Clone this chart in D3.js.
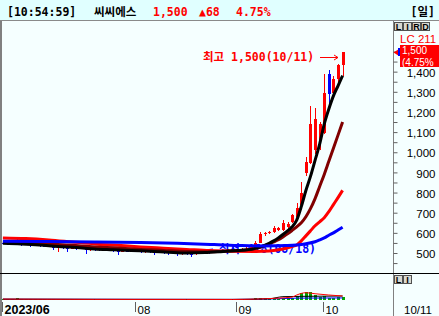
<!DOCTYPE html>
<html>
<head>
<meta charset="utf-8">
<script src="https://cdn.jsdelivr.net/npm/d3@7"></script>
<style>
  body { margin: 0; background: #fff; }
  svg { display: block; }
</style>
</head>
<body>
<svg id="chart" width="439" height="316"></svg>
<script>
// trading days shown on the chart
const dates = ["06/21","06/22","06/23","06/26","06/27","06/28","06/29","06/30",
  "07/03","07/04","07/05","07/06","07/07","07/10","07/11","07/12","07/13","07/14","07/17","07/18","07/19","07/20","07/21","07/24","07/25","07/26","07/27","07/28","07/31",
  "08/01","08/02","08/03","08/04","08/07","08/08","08/09","08/10","08/11","08/14","08/16","08/17","08/18","08/21","08/22","08/23","08/24","08/25","08/28","08/29","08/30","08/31",
  "09/01","09/04","09/05","09/06","09/07","09/08","09/11","09/12","09/13","09/14","09/15","09/18","09/19","09/20","09/21","09/22","09/25","09/26","09/27",
  "10/04","10/05","10/06","10/10","10/11"];

const openP = [552,548,544,550,545,540,546,536,
  542,536,535,532,524,528,526,520,525,520,524,515,520,518,514,520,514,512,508,512,510,
  514,510,508,512,506,505,508,503,500,505,498,500,496,495,502,505,508,506,510,512,510,515,
  514,518,520,522,525,552,592,600,604,615,615,630,655,680,737,895,945,1010,1060,
  1095,1390,1295,1365,1435];
const highP = [560,552,556,568,548,550,548,546,
  545,540,538,535,530,532,530,528,528,526,526,522,524,522,522,522,518,515,515,514,518,
  516,514,514,514,510,510,510,506,508,508,502,504,500,505,508,510,510,512,515,514,518,518,
  522,525,528,532,560,604,606,608,632,630,665,652,695,750,850,975,1230,1220,1150,
  1390,1410,1380,1440,1500];
const lowP = [544,540,540,538,535,538,530,534,
  532,530,528,515,505,520,505,518,515,518,495,512,510,510,512,508,505,492,505,505,508,
  505,502,500,498,490,500,496,488,496,485,490,488,478,490,500,502,495,504,506,505,508,508,
  510,512,515,518,522,550,585,592,600,610,610,620,650,675,730,880,940,990,1010,
  1090,1240,1280,1350,1380];
const closeP = [548,545,550,542,540,545,538,542,
  536,535,532,525,528,526,522,525,520,524,515,520,518,516,520,514,512,508,512,510,514,
  510,508,512,506,505,508,503,500,505,498,500,496,495,502,505,508,506,510,512,510,515,514,
  518,520,522,528,548,595,598,604,625,622,650,645,688,722,800,950,1140,1165,1140,
  1295,1290,1365,1432,1500];
const volume = [30,20,25,40,15,18,20,15,
  18,12,15,20,25,15,20,12,15,10,25,12,15,10,12,15,14,20,12,10,12,
  12,10,12,14,15,10,12,18,10,16,12,14,25,14,10,12,15,10,12,10,14,12,
  15,14,16,22,45,60,40,30,45,35,55,40,60,100,170,200,195,120,70,
  85,60,50,65,75];

// moving averages: [day index, price]
const ma5 = [[0,548],[4,545],[8,540],[12,532],[16,527],[20,520],[24,516],[28,512],[32,509],[36,504],[40,500],[44,502],[48,508],[52,514],
  [54,518],[55,524],[56,530],[57,538],[58,548],[59,560],[60,575],[61,592],[62,610],[63,630],[64,663],[65,730],[66,810],[67,880],[68,960],[69,1040],[70,1140],[71,1215],[72,1280],[73,1330],[74,1380]];
const ma20 = [[0,552],[5,550],[10,545],[15,538],[20,530],[25,525],[30,518],[35,513],[40,508],[45,506],[50,510],
  [54,517],[55,522],[56,528],[57,536],[58,545],[59,555],[60,566],[61,580],[62,595],[63,612],[64,630],[65,650],[66,680],[67,720],[68,770],[69,830],[70,890],[71,955],[72,1020],[73,1085],[74,1150]];
const ma60 = [[0,575],[5,572],[10,565],[15,555],[20,545],[25,538],[30,530],[35,524],[40,518],[45,512],[50,509],[55,508],[58,510],
  [61,520],[63,532],[64,540],[65,560],[66,585],[67,610],[68,635],[69,655],[70,675],[71,705],[72,740],[73,775],[74,811]];
const ma120 = [[0,558],[10,557],[20,555],[30,552],[38,548],[46,542],[52,537],[57,535],[62,537],[64,540],[66,546],[68,556],[69,565],[70,575],[71,588],[72,600],[73,614],[74,628]];

const volMa5 = [[0,22],[20,15],[40,14],[50,13],[55,22],[60,45],[63,70],[64,120],[66,175],[68,150],[71,120],[74,96]];
const volMa20 = [[0,20],[30,15],[50,14],[58,30],[61,80],[65,88],[70,92],[74,95]];
const volMa60 = [[0,18],[30,16],[50,14],[60,30],[64,45],[74,50]];

const priceTicks = [450,500,550,600,650,700,750,800,850,900,950,1000,1050,1100,1150,1200,1250,1300,1350,1400,1450,1500];
const priceLabels = [500,600,700,800,900,1000,1100,1200,1300,1400];
const monthLabels = [["06/21","2023/06"],["08/01","08"],["09/01","09"],["10/04","10"]];

const RED = "#ff0000", BLUE = "#0000ff";
const MONO = "'DejaVu Sans Mono','Noto Sans CJK KR',monospace";
const SANS = "'Liberation Sans',Arial,sans-serif";

const W = 439, H = 316;
const svg = d3.select("#chart");

const x = d3.scaleBand().domain(dates).range([0.6, 344.9]);
const cx = d => x(d) + x.bandwidth() / 2;
const y = d3.scaleLinear().domain([500, 1500]).range([253, 51.5]);
const yv = d3.scaleLinear().domain([0, 600]).range([300, 275]);

// backgrounds and frame
svg.append("rect").attr("width", W).attr("height", H).attr("fill", "#f5ffff");
svg.append("rect").attr("width", W).attr("height", 20).attr("fill", "#e0ffff");
svg.append("line").attr("x1", 0).attr("x2", W).attr("y1", 20.5).attr("y2", 20.5).attr("stroke", "#8a8a8a");
svg.append("line").attr("x1", 1).attr("x2", 1).attr("y1", 21).attr("y2", H).attr("stroke", "#808080").attr("stroke-width", 2);
svg.append("line").attr("x1", 393.5).attr("x2", 393.5).attr("y1", 21).attr("y2", H).attr("stroke", "#808080");
svg.append("line").attr("x1", 0).attr("x2", W).attr("y1", 273.5).attr("y2", 273.5).attr("stroke", "#000");

// header
const head = svg.append("g").attr("font-family", MONO).attr("font-size", 11.5).attr("font-weight", "bold");
head.append("text").attr("x", 7).attr("y", 16).text("[10:54:59]");
head.append("text").attr("x", 94).attr("y", 16).text("씨씨에스");
head.append("text").attr("x", 153).attr("y", 16).attr("fill", RED).text("1,500");
head.append("text").attr("x", 199).attr("y", 16).attr("fill", RED).text("▲68");
head.append("text").attr("x", 236).attr("y", 16).attr("fill", RED).text("4.75%");
head.append("text").attr("x", 435).attr("y", 16).attr("text-anchor", "end").text("[일]");

// low label (sits under the lines)
const lowIdx = dates.indexOf("08/18");
svg.append("text").attr("x", 316).attr("y", 253).attr("text-anchor", "end")
  .attr("font-family", MONO).attr("font-size", 11.5).attr("font-weight", "bold").attr("fill", BLUE)
  .text("최저 478(08/18)");
svg.append("line").attr("x1", 213).attr("y1", 249).attr("x2", cx(dates[lowIdx]) + 2).attr("y2", y(lowP[lowIdx]) - 6)
  .attr("stroke", BLUE);

// candles
const candles = dates.map((d, i) => ({ d, o: openP[i], h: highP[i], l: lowP[i], c: closeP[i], v: volume[i] }));
const col = k => k.c >= k.o ? RED : BLUE;
const cg = svg.append("g").attr("shape-rendering", "crispEdges");
cg.selectAll("line").data(candles).join("line")
  .attr("x1", k => Math.round(cx(k.d)) + 0.5).attr("x2", k => Math.round(cx(k.d)) + 0.5)
  .attr("y1", k => y(k.h)).attr("y2", k => y(k.l))
  .attr("stroke", col);
cg.selectAll("rect").data(candles).join("rect")
  .attr("x", k => Math.round(cx(k.d)) - 1)
  .attr("width", 3)
  .attr("y", k => y(Math.max(k.o, k.c)))
  .attr("height", k => Math.max(1, Math.abs(y(k.o) - y(k.c))))
  .attr("fill", col);

// moving averages
const maLine = d3.line().x(p => cx(dates[p[0]])).y(p => y(p[1])).curve(d3.curveMonotoneX);
[[ma60, RED], [ma20, "#800000"], [ma5, "#000000"], [ma120, BLUE]].forEach(([pts, c]) => {
  svg.append("path").datum(pts)
    .attr("fill", "none").attr("stroke", c).attr("stroke-width", 3)
    .attr("stroke-linejoin", "round").attr("d", maLine);
});

// high label
svg.append("text").attr("x", 203).attr("y", 61)
  .attr("font-family", MONO).attr("font-size", 11.5).attr("font-weight", "bold").attr("fill", RED)
  .text("최고 1,500(10/11)");
svg.append("path").attr("d", "M320,57.5H338M334,55L338,57.5L334,60")
  .attr("fill", "none").attr("stroke", RED);

// volume panel
svg.append("g").attr("shape-rendering", "crispEdges")
  .selectAll("rect").data(candles).join("rect")
  .attr("x", k => Math.round(cx(k.d)) - 1)
  .attr("width", 3)
  .attr("y", k => Math.min(299, yv(k.v)))
  .attr("height", k => Math.max(1, 300 - yv(k.v)))
  .attr("fill", "#00a800");
const volLine = d3.line().x(p => cx(dates[p[0]])).y(p => yv(p[1])).curve(d3.curveMonotoneX);
[[volMa60, BLUE], [volMa20, "#000"], [volMa5, RED]].forEach(([pts, c]) => {
  svg.append("path").datum(pts).attr("fill", "none").attr("stroke", c).attr("stroke-width", 1).attr("d", volLine);
});

// price axis (the 1,500 level is covered by the current price box)
const yAxis = d3.axisRight(y).tickValues(priceTicks).tickSize(4)
  .tickFormat(v => priceLabels.includes(v) ? d3.format(",")(v) : "");
const ga = svg.append("g").attr("transform", "translate(393.5,0)").call(yAxis);
ga.select(".domain").remove();
ga.selectAll("line").attr("stroke", "#606060");
ga.selectAll("text").attr("x", 42).attr("text-anchor", "end").attr("dy", "0.4em")
  .attr("font-family", SANS).attr("font-size", 11.5).attr("fill", "#000");

// current price marker
svg.append("path").attr("d", "M393.5,52.5L399,49L399,56Z").attr("fill", RED);
svg.append("rect").attr("x", 398).attr("y", 48).attr("width", 2).attr("height", 8).attr("fill", BLUE);
svg.append("text").attr("x", 400).attr("y", 43).attr("font-family", SANS).attr("font-size", 11.5).attr("fill", RED).text("LC 211");
svg.append("rect").attr("x", 400).attr("y", 45).attr("width", 39).attr("height", 22).attr("fill", RED);
svg.append("text").attr("x", 402).attr("y", 54).attr("font-family", SANS).attr("font-size", 10).attr("fill", "#fff").text("1,500");
svg.append("text").attr("x", 402).attr("y", 65.5).attr("font-family", SANS).attr("font-size", 10).attr("fill", "#fff").text("(4.75%");

// small buttons
function buttons(letters, x0, y0) {
  letters.forEach((t, i) => {
    svg.append("rect").attr("x", x0 + i * 9 + 0.5).attr("y", y0 + 0.5).attr("width", 8).attr("height", 8)
      .attr("fill", "#d8d8d0").attr("stroke", "#505050");
    svg.append("text").attr("x", x0 + i * 9 + 4.5).attr("y", y0 + 8).attr("text-anchor", "middle")
      .attr("font-family", SANS).attr("font-size", 9).attr("font-weight", "bold").text(t);
  });
}
buttons(["L", "I", "R", "D"], 394, 22);
buttons(["L", "I"], 394, 275);

// date axis
monthLabels.forEach(([d, label], i) => {
  const tx = Math.round(cx(d)) - 0.5;
  svg.append("line").attr("x1", tx).attr("x2", tx).attr("y1", 302).attr("y2", 312).attr("stroke", "#606060");
  svg.append("text").attr("x", tx + 2).attr("y", 313.5)
    .attr("font-family", SANS).attr("font-size", i === 0 ? 12.5 : 11.5)
    .attr("font-weight", i === 0 ? "bold" : "normal").text(label);
});
svg.append("text").attr("x", 432).attr("y", 313.5).attr("text-anchor", "end")
  .attr("font-family", SANS).attr("font-size", 11.5).text("10/11");
</script>
</body>
</html>
